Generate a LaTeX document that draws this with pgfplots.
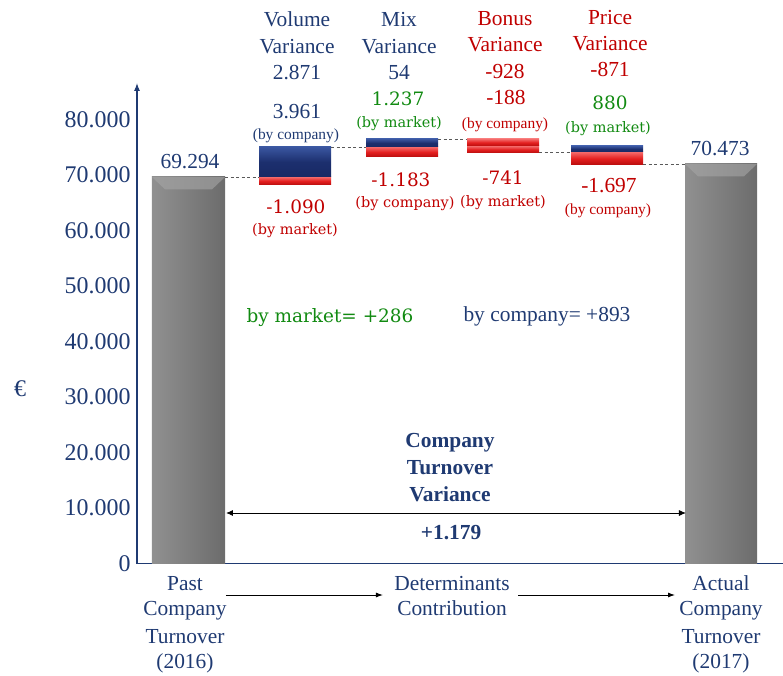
\documentclass[border=0pt]{standalone}
\usepackage{fontspec}
\setmainfont{Liberation Serif}
\newfontfamily\cam{DejaVu Serif}
\usepackage{pgfplots}
\pgfplotsset{compat=1.18}
\usetikzlibrary{arrows.meta}
\definecolor{navy}{HTML}{1F3A72}
\definecolor{txtred}{HTML}{C00000}
\definecolor{txtgreen}{HTML}{118A11}
\definecolor{bl1}{HTML}{3A56A0}
\definecolor{bl2}{HTML}{1C2F6E}
\definecolor{bl3}{HTML}{182964}
\definecolor{rd1}{HTML}{F46A6A}
\definecolor{rd2}{HTML}{E42020}
\definecolor{rd3}{HTML}{B80C0C}
\definecolor{gr1}{HTML}{909090}
\definecolor{gr2}{HTML}{7E7E7E}
\definecolor{gr3}{HTML}{6C6C6C}
\newcommand\fs[1]{\fontsize{#1}{#1}\selectfont}
\tikzset{tx/.style={text height=1.44ex, text depth=0pt, inner sep=0pt, yshift=-3.7bp}}
\begin{document}
\begin{tikzpicture}
\useasboundingbox (-137bp,-112.5bp) rectangle (646bp,563.5bp);
\begin{axis}[
  at={(0bp,0bp)}, anchor=south west,
  scale only axis, width=646bp, height=480.5bp,
  xmin=-0.4836, xmax=5.582, ymin=0, ymax=86577,
  axis x line=bottom, axis y line=left,
  axis line style={navy, line width=1.1bp},
  x axis line style={-},
  y axis line style={-{Latex[length=8bp,width=6bp]}},
  xtick=\empty,
  ytick={0,10000,20000,30000,40000,50000,60000,70000,80000},
  major tick length=0pt,
  scaled y ticks=false,
  yticklabel style={font=\fs{24}, text=navy, anchor=east, xshift=-3bp,
    /pgf/number format/1000 sep={.}, /pgf/number format/assume math mode=true},
  clip=false,
]
% grey totals
\addplot[ybar, bar width=0.686, draw=none, left color=gr1, right color=gr3, middle color=gr2] coordinates {(0,69640)};
\addplot[ybar, bar width=0.676, draw=none, left color=gr1, right color=gr3, middle color=gr2] coordinates {(5,71982)};
% top bevels
\addplot[draw=none, fill=gr1!80!white, fill opacity=0.6] coordinates {(-0.343,69640) (0.343,69640) (0.22,67400) (-0.22,67400)};
\addplot[draw=none, fill=gr1!80!white, fill opacity=0.6] coordinates {(4.662,71982) (5.338,71982) (5.215,69740) (4.785,69740)};
% connectors
\addplot[black!65, line width=0.9bp, dash pattern=on 3bp off 2.5bp] coordinates {(0.343,69640) (0.662,69640)};
\addplot[black!65, line width=0.9bp, dash pattern=on 3bp off 2.5bp] coordinates {(1.338,75045) (1.667,75045)};
\addplot[black!65, line width=0.9bp, dash pattern=on 3bp off 2.5bp] coordinates {(2.343,76486) (2.615,76486)};
\addplot[black!65, line width=0.9bp, dash pattern=on 3bp off 2.5bp] coordinates {(3.291,74054) (3.592,74054)};
\addplot[black!65, line width=0.9bp, dash pattern=on 3bp off 2.5bp] coordinates {(4.268,71982) (4.662,71982)};
% Volume
\addplot[draw=none, top color=rd1, bottom color=rd3, middle color=rd2] coordinates {(0.662,68200) (1.338,68200) (1.338,69640) (0.662,69640)};
\addplot[draw=none, top color=bl1, bottom color=bl3, middle color=bl2] coordinates {(0.662,69640) (1.338,69640) (1.338,75045) (0.662,75045)};
% Mix
\addplot[draw=none, top color=rd1, bottom color=rd3, middle color=rd2] coordinates {(1.667,73243) (2.343,73243) (2.343,75045) (1.667,75045)};
\addplot[draw=none, top color=bl1, bottom color=bl3, middle color=bl2] coordinates {(1.667,75045) (2.343,75045) (2.343,76486) (1.667,76486)};
% Bonus
\addplot[draw=none, top color=rd1, bottom color=rd3, middle color=rd2] coordinates {(2.615,73964) (3.291,73964) (3.291,75225) (2.615,75225)};
\addplot[draw=none, top color=rd1, bottom color=rd3, middle color=rd2] coordinates {(2.615,75225) (3.291,75225) (3.291,76486) (2.615,76486)};
% Price
\addplot[draw=none, top color=rd1, bottom color=rd3, middle color=rd2] coordinates {(3.592,71802) (4.268,71802) (4.268,74144) (3.592,74144)};
\addplot[draw=none, top color=bl1, bottom color=bl3, middle color=bl2] coordinates {(3.592,74144) (4.268,74144) (4.268,75225) (3.592,75225)};

% headers
\begin{scope}[every node/.style={tx, font=\fs{21.5}}]
\node[navy] at (axis cs:1.019,97928) {Volume};
\node[navy] at (axis cs:1.019,93063) {Variance};
\node[navy] at (axis cs:1.019,88378) {2.871};
\node[navy] at (axis cs:1.977,97928) {Mix};
\node[navy] at (axis cs:1.977,93063) {Variance};
\node[navy] at (axis cs:1.977,88378) {54};
\node[txtred] at (axis cs:2.972,98108) {Bonus};
\node[txtred] at (axis cs:2.972,93424) {Variance};
\node[txtred] at (axis cs:2.972,88558) {-928};
\node[txtred] at (axis cs:3.958,98288) {Price};
\node[txtred] at (axis cs:3.958,93604) {Variance};
\node[txtred] at (axis cs:3.958,88919) {-871};
\node[navy] at (axis cs:1.019,81351) {3.961};
\node[txtred] at (axis cs:2.981,83874) {-188};
\node[txtred] at (axis cs:3.948,68018) {-1.697};
\node[navy] at (axis cs:0.014,72342) {69.294};
\node[navy] at (axis cs:4.991,74684) {70.473};
\node[navy] at (axis cs:3.366,44775) {by company= +893};
\node[navy, font=\fs{21.5}\bfseries] at (axis cs:2.455,22072) {Company};
\node[navy, font=\fs{21.5}\bfseries] at (axis cs:2.455,17207) {Turnover};
\node[navy, font=\fs{21.5}\bfseries] at (axis cs:2.455,12342) {Variance};
\node[navy, font=\fs{21.5}\bfseries] at (axis cs:2.465,5495) {+1.179};
\node[navy] at (axis cs:-0.033,-3694) {Past};
\node[navy] at (axis cs:-0.033,-8198) {Company};
\node[navy] at (axis cs:-0.033,-13243) {Turnover};
\node[navy] at (axis cs:-0.033,-17748) {(2016)};
\node[navy] at (axis cs:2.474,-3694) {Determinants};
\node[navy] at (axis cs:2.474,-8198) {Contribution};
\node[navy] at (axis cs:5.0,-3694) {Actual};
\node[navy] at (axis cs:5.0,-8198) {Company};
\node[navy] at (axis cs:5.0,-13243) {Turnover};
\node[navy] at (axis cs:5.0,-17748) {(2017)};
\node[navy, font=\fs{24}] at (axis cs:-1.582,31261) {€};
\end{scope}
% small serif labels
\begin{scope}[every node/.style={tx, font=\fs{15.5}}]
\node[navy] at (axis cs:1.009,77567) {(by company)};
\node[txtred] at (axis cs:2.972,79550) {(by company)};
\node[txtred] at (axis cs:3.939,64054) {(by company)};
\end{scope}
% Cambria-like labels
\begin{scope}[every node/.style={tx, font=\cam\fs{18.5}}]
\node[txtgreen] at (axis cs:1.967,83694) {1.237};
\node[txtgreen] at (axis cs:3.958,82973) {880};
\node[txtred] at (axis cs:1.009,64234) {-1.090};
\node[txtred] at (axis cs:1.995,69099) {-1.183};
\node[txtred] at (axis cs:2.953,69459) {-741};
\node[txtgreen] at (axis cs:1.329,44595) {by market= +286};
\end{scope}
\begin{scope}[every node/.style={tx, font=\cam\fs{14.5}}]
\node[txtgreen] at (axis cs:1.977,79730) {(by market)};
\node[txtgreen] at (axis cs:3.939,78829) {(by market)};
\node[txtred] at (axis cs:1.0,60451) {(by market)};
\node[txtred] at (axis cs:2.033,65315) {(by company)};
\node[txtred] at (axis cs:2.953,65495) {(by market)};
\end{scope}
% arrows
\draw[{Latex[length=7bp,width=6bp]}-{Latex[length=7bp,width=6bp]}, line width=0.9bp] (axis cs:0.352,9099) -- (axis cs:4.671,9099);
\draw[-{Latex[length=7bp,width=5bp]}, line width=0.9bp] (axis cs:0.352,-5676) -- (axis cs:1.826,-5676);
\draw[-{Latex[length=7bp,width=5bp]}, line width=0.9bp] (axis cs:3.094,-5676) -- (axis cs:4.568,-5676);
\end{axis}
\end{tikzpicture}
\end{document}
